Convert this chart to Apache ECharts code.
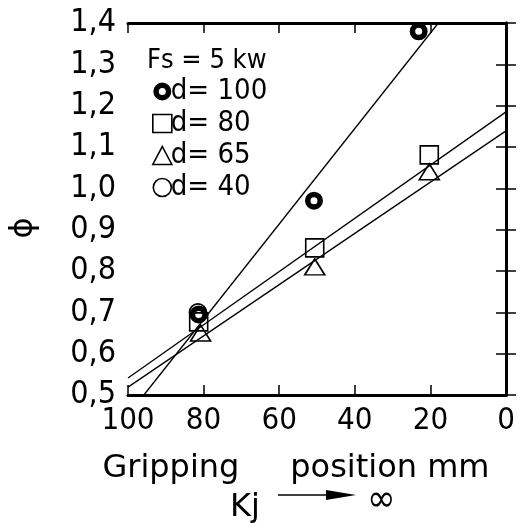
<!DOCTYPE html>
<html><head><meta charset="utf-8">
<script src="https://cdn.jsdelivr.net/npm/echarts@6/dist/echarts.min.js"></script>
<style>html,body{margin:0;padding:0;background:#fff}#c{width:529px;height:530px}</style>
</head><body><div id="c"></div>
<script>
var FONT = "'DejaVu Sans Condensed','DejaVu Sans',sans-serif";
var WIDE = "'DejaVu Sans',sans-serif";
var xTicks = [100, 80, 60, 40, 20, 0];
var yTicks = [0.5, 0.6, 0.7, 0.8, 0.9, 1.0, 1.1, 1.2, 1.3, 1.4];
var seriesNames = ['d= 100', 'd= 80', 'd= 65', 'd= 40'];
var d100 = [[81.3, 0.695], [50.8, 0.970], [23.1, 1.380]];
var d80 = [[81.3, 0.677], [50.6, 0.856], [20.3, 1.081]];
var d65 = [[80.8, 0.650], [50.6, 0.810], [20.3, 1.040]];
var d40 = [[81.5, 0.700]];
var fitD100 = [[95.8, 0.5], [17.9, 1.4]];
var fitD80 = [[100, 0.541], [0, 1.185]];
var fitD65 = [[100, 0.519], [0, 1.139]];
var legendTitle = 'Fs = 5 kw';
var xName = 'Gripping     position mm';
var yName = '\u03D5';

var RING = 'path://M0,-9A9,9 0 1,1 0,9A9,9 0 1,1 0,-9ZM0,-3.5A3.5,3.5 0 1,0 0,3.5A3.5,3.5 0 1,0 0,-3.5Z';

var chart = echarts.init(document.getElementById('c'), null, {renderer: 'canvas'});
var black = '#000';
function fitLine(d) {
  return {type: 'line', data: d, symbol: 'none', silent: true, z: 2,
    lineStyle: {color: black, width: 1.3}};
}
var mk = {color: 'rgba(0,0,0,0)', borderColor: black, borderWidth: 1.6, opacity: 1};
chart.setOption({
  animation: false,
  backgroundColor: '#fff',
  grid: {left: 122, right: 23, top: 23, bottom: 135},
  xAxis: [{
    type: 'value', inverse: true, min: 0, max: 100, interval: 20,
    name: xName, nameLocation: 'middle', nameGap: 58,
    nameTextStyle: {fontFamily: WIDE, fontSize: 32, color: black, padding: [0, 42, 0, 0]},
    axisLine: {lineStyle: {color: black, width: 3}},
    axisTick: {inside: true, length: 10, lineStyle: {color: black, width: 1.5}},
    axisLabel: {fontFamily: FONT, fontSize: 31, color: black, margin: 10},
    splitLine: {show: false}
  }, {
    type: 'value', inverse: true, min: 0, max: 100, interval: 20, position: 'top',
    axisLine: {show: true, lineStyle: {color: black, width: 3}},
    axisTick: {show: true, inside: true, length: 10, lineStyle: {color: black, width: 1.5}},
    axisLabel: {show: false}, splitLine: {show: false}
  }],
  yAxis: [{
    type: 'value', min: 0.5, max: 1.4, interval: 0.1,
    name: yName, nameLocation: 'middle', nameGap: 88, nameRotate: 90,
    nameTextStyle: {fontFamily: WIDE, fontSize: 32, color: black, padding: [0, 38, 0, 0]},
    axisLine: {lineStyle: {color: black, width: 3}},
    axisTick: {inside: true, length: 10, lineStyle: {color: black, width: 1.5}},
    axisLabel: {fontFamily: FONT, fontSize: 32, color: black, margin: 12,
      formatter: function (v) { return v.toFixed(1).replace('.', ','); }},
    splitLine: {show: false}
  }, {
    type: 'value', min: 0.5, max: 1.4, interval: 0.1, position: 'right',
    axisLine: {show: true, lineStyle: {color: black, width: 3}},
    axisTick: {show: true, inside: true, length: 10, lineStyle: {color: black, width: 1.5}},
    axisLabel: {show: false}, splitLine: {show: false}
  }],
  legend: {
    show: true, orient: 'vertical', left: 147, top: 72,
    itemWidth: 19, itemHeight: 18, itemGap: 3,
    textStyle: {fontFamily: FONT, fontSize: 29, color: black, padding: [0, 0, 0, -6]},
    data: [
      {name: seriesNames[0], icon: RING, itemStyle: {color: black, borderWidth: 0}},
      {name: seriesNames[1], icon: 'rect', itemStyle: {color: 'rgba(0,0,0,0)', borderColor: black, borderWidth: 1.6}},
      {name: seriesNames[2], icon: 'triangle', itemStyle: {color: 'rgba(0,0,0,0)', borderColor: black, borderWidth: 1.6}},
      {name: seriesNames[3], icon: 'circle', itemStyle: {color: 'rgba(0,0,0,0)', borderColor: black, borderWidth: 1.6}}
    ]
  },
  graphic: [
    {type: 'text', left: 147, top: 47, style: {text: legendTitle, font: '27px ' + FONT, fill: black}},
    {type: 'text', left: 230, top: 492, style: {text: 'Kj', font: '32px ' + WIDE, fill: black}},
    {type: 'line', shape: {x1: 278, y1: 495, x2: 330, y2: 495}, style: {stroke: black, lineWidth: 1.5}},
    {type: 'polygon', shape: {points: [[326, 490], [356, 495], [326, 500]]}, style: {fill: black}},
    {type: 'text', left: 367, top: 482, style: {text: '\u221E', font: '38px ' + FONT, fill: black}}
  ],
  series: [
    {name: seriesNames[0], type: 'scatter', data: d100, symbol: RING, symbolSize: 18, z: 5,
      itemStyle: {color: black, opacity: 1}},
    {name: seriesNames[1], type: 'scatter', data: d80, symbol: 'rect', symbolSize: 18, z: 5, itemStyle: mk},
    {name: seriesNames[2], type: 'scatter', data: d65, symbol: 'triangle', symbolSize: [20, 16], z: 5, itemStyle: mk},
    {name: seriesNames[3], type: 'scatter', data: d40, symbol: 'circle', symbolSize: 17, z: 5, itemStyle: mk},
    fitLine(fitD100), fitLine(fitD80), fitLine(fitD65)
  ]
});
</script></body></html>
